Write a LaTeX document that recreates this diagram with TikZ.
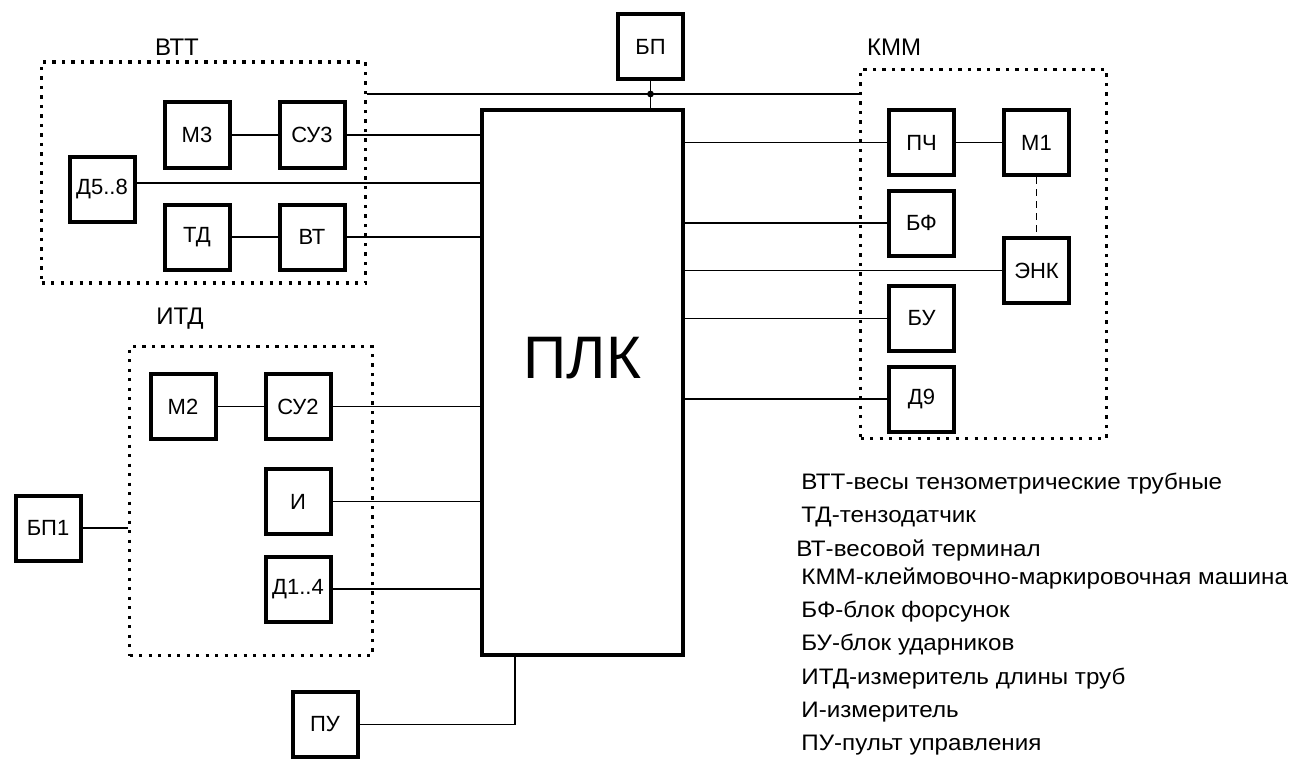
\documentclass[tikz,border=0pt]{standalone}
\usepackage{fontspec}
\setmainfont{Liberation Sans}
\newfontfamily\legendfont[FakeStretch=1.08]{Liberation Sans}

\begin{document}
\begin{tikzpicture}[x=0.5pt, y=-0.5pt,
  blok/.style={draw, line width=2pt, minimum size=32.5pt, inner sep=0pt, font=\fontsize{11}{13}\selectfont},
  gruppa/.style={draw, line width=1.6pt, dash pattern=on 1.6pt off 3.15pt, inner sep=0pt},
  svyaz/.style={line width=0.9pt},
  zagolovok/.style={font=\fontsize{12}{14}\selectfont},
  poyasn/.style={anchor=base west, inner sep=0pt, font=\legendfont\fontsize{11.2}{13}\selectfont}]
  \useasboundingbox (0,0) rectangle (1300,765);
  % PLC
  \node[draw, line width=2pt, minimum width=100.5pt, minimum height=272.5pt] (plk) at (582.5,382.5) {};
  \node[font=\fontsize{30}{36}\selectfont] (plktxt) at (582.5,358) {ПЛК};
  \node[blok] (bp) at (650.5,46.5) {БП};
  % VTT
  \node[gruppa, minimum width=162pt, minimum height=110.5pt] (vtt) at (203.5,172.5) {};
  \node[zagolovok] (vttname) at (177,47) {ВТТ};
  \node[blok] (m3) at (197,135) {М3};
  \node[blok] (su3) at (312,135) {СУ3};
  \node[blok] (d58) at (102,189) {Д5..8};
  \node[blok] (td) at (197,237) {ТД};
  \node[blok] (vt) at (312,237) {ВТ};
  % ITD
  \node[gruppa, minimum width=121.5pt, minimum height=154.5pt] (itd) at (251,501) {};
  \node[zagolovok] (itdname) at (180,319) {ИТД};
  \node[blok] (m2) at (183,406.5) {М2};
  \node[blok] (su2) at (298,406.5) {СУ2};
  \node[blok] (izm) at (298,501.5) {И};
  \node[blok] (d14) at (298,589) {Д1..4};
  \node[blok] (bp1) at (48,528) {БП1};
  \node[blok] (pu) at (325,724.5) {ПУ};
  % KMM
  \node[gruppa, minimum width=123pt, minimum height=184.5pt] (kmm) at (983.5,254) {};
  \node[zagolovok] (kmmname) at (894,47) {КММ};
  \node[blok] (pch) at (921.5,142.5) {ПЧ};
  \node[blok] (m1) at (1036.5,142.5) {М1};
  \node[blok] (bf) at (921.5,223) {БФ};
  \node[blok] (enk) at (1036.5,270.5) {ЭНК};
  \node[blok] (bu) at (921.5,318.5) {БУ};
  \node[blok] (d9) at (921.5,399) {Д9};
  % power bus
  \coordinate (uzel) at (650.5,94);
  \draw[svyaz] (vtt.east |- uzel) -- (kmm.west |- uzel);
  \draw[svyaz] (bp.south) -- (bp.south |- plk.north);
  \fill (uzel) circle (1.7pt);
  % left links
  \draw[svyaz] (m3) -- (su3);
  \draw[svyaz] (td) -- (vt);
  \draw[svyaz] (su3.east) -- (su3.east -| plk.west);
  \draw[svyaz] ([yshift=3pt]d58.east) -- ([yshift=3pt]d58.east -| plk.west);
  \draw[svyaz] (vt.east) -- (vt.east -| plk.west);
  \draw[svyaz] (m2) -- (su2);
  \draw[svyaz] (su2.east) -- (su2.east -| plk.west);
  \draw[svyaz] (izm.east) -- (izm.east -| plk.west);
  \draw[svyaz] (d14.east) -- (d14.east -| plk.west);
  \draw[svyaz] (bp1.east) -- (bp1.east -| itd.west);
  \draw[svyaz] (pu.east) -| ([xshift=-33.75pt]plk.south);
  % right links
  \draw[svyaz] (pch.west -| plk.east) -- (pch.west);
  \draw[svyaz] (pch) -- (m1);
  \draw[svyaz] (bf.west -| plk.east) -- (bf.west);
  \draw[svyaz] (enk.west -| plk.east) -- (enk.west);
  \draw[svyaz] (bu.west -| plk.east) -- (bu.west);
  \draw[svyaz] (d9.west -| plk.east) -- (d9.west);
  \draw[svyaz, dash pattern=on 3.5pt off 2.5pt] (m1) -- (enk);
  % legend
  \node[poyasn] (leg1) at (801,489) {ВТТ-весы тензометрические трубные};
  \node[poyasn] (leg2) at (801,522) {ТД-тензодатчик};
  \node[poyasn] (leg3) at (796,556) {ВТ-весовой терминал};
  \node[poyasn] (leg4) at (801,584) {КММ-клеймовочно-маркировочная машина};
  \node[poyasn] (leg5) at (801,617) {БФ-блок форсунок};
  \node[poyasn] (leg6) at (801,650) {БУ-блок ударников};
  \node[poyasn] (leg7) at (801,684) {ИТД-измеритель длины труб};
  \node[poyasn] (leg8) at (801,717) {И-измеритель};
  \node[poyasn] (leg9) at (801,750) {ПУ-пульт управления};
\end{tikzpicture}
\end{document}
